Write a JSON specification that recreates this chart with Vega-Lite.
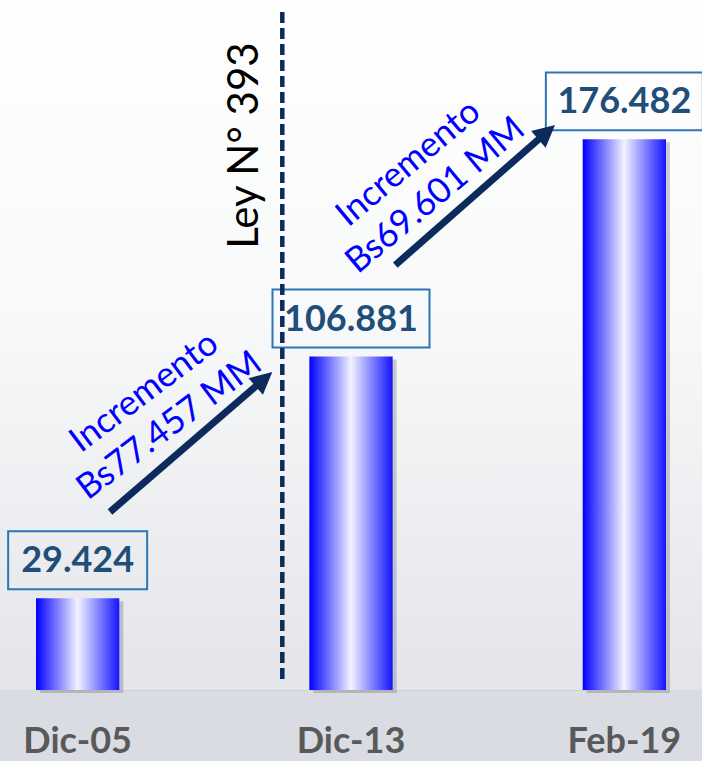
{
  "$schema": "https://vega.github.io/schema/vega-lite/v6.json",
  "width": 702,
  "height": 690,
  "autosize": {"type": "none"},
  "padding": {"left": 0, "right": 0, "top": 0, "bottom": 71},
  "background": "#d9dce2",
  "config": {
    "view": {
      "stroke": null,
      "fill": {"gradient": "linear", "x1": 0, "y1": 0, "x2": 0, "y2": 1,
        "stops": [{"offset": 0, "color": "#ffffff"}, {"offset": 0.45, "color": "#f8f9fa"}, {"offset": 1, "color": "#e3e5e9"}]}
    },
    "axisX": {"title": null, "labelAngle": 0, "labelFont": "Lato", "labelFontWeight": "bold", "labelFontSize": 36,
      "labelColor": "#595959", "ticks": false, "tickSize": 0, "labelPadding": 62, "labelBaseline": "alphabetic",
      "domainColor": "#d8d0d0", "domainWidth": 1, "grid": false}
  },
  "data": {"values": [
    {"periodo": "Dic-05", "monto": 29.424},
    {"periodo": "Dic-13", "monto": 106.881},
    {"periodo": "Feb-19", "monto": 176.482}
  ]},
  "layer": [
    {
      "mark": {"type": "bar", "fill": "#6f7280", "opacity": 0.35, "xOffset": 4, "yOffset": 3},
      "encoding": {
        "x": {"field": "periodo", "type": "nominal", "sort": null, "title": null,
          "scale": {"range": [36, 666], "paddingInner": 0.6953, "paddingOuter": 0}},
        "y": {"field": "monto", "type": "quantitative", "scale": {"domain": [0, 221.15], "nice": false}, "axis": null}
      }
    },
    {
      "mark": {"type": "bar",
        "fill": {"gradient": "linear", "x1": 0, "y1": 0, "x2": 1, "y2": 0,
          "stops": [{"offset": 0, "color": "#0000ff"}, {"offset": 0.5, "color": "#f2f2ff"}, {"offset": 1, "color": "#1414ff"}]}},
      "encoding": {
        "x": {"field": "periodo", "type": "nominal", "sort": null, "title": null},
        "y": {"field": "monto", "type": "quantitative", "axis": null}
      }
    },
    {
      "mark": {"type": "point", "filled": false, "stroke": "#2e75b6", "strokeWidth": 2, "opacity": 1, "yOffset": -38},
      "encoding": {
        "x": {"field": "periodo", "type": "nominal", "sort": null, "title": null},
        "y": {"field": "monto", "type": "quantitative", "axis": null},
        "shape": {"condition": {"test": "datum.monto < 50", "value": "M-1,-0.417L1,-0.417L1,0.417L-1,0.417Z"},
          "value": "M-1,-0.369L1,-0.369L1,0.369L-1,0.369Z"},
        "size": {"condition": {"test": "datum.monto < 50", "value": 19321}, "value": 24649}
      }
    },
    {
      "mark": {"type": "text", "font": "Lato", "fontWeight": "bold", "fontSize": 36, "color": "#1f4e79", "baseline": "middle", "yOffset": -37},
      "encoding": {
        "x": {"field": "periodo", "type": "nominal", "sort": null, "title": null},
        "y": {"field": "monto", "type": "quantitative", "axis": null},
        "text": {"field": "monto", "type": "quantitative", "format": ".3f"}
      }
    },
    {
      "data": {"values": [{}]},
      "mark": {"type": "rule", "color": "#0d2a5c", "strokeWidth": 4.5, "strokeDash": [11, 5], "xOffset": -68.7},
      "encoding": {
        "x": {"datum": "Dic-13", "type": "nominal", "title": null},
        "y": {"datum": 217.3, "type": "quantitative", "axis": null},
        "y2": {"datum": 2.6}
      }
    },
    {
      "data": {"values": [{}]},
      "mark": {"type": "text", "text": "Ley N° 393", "font": "Lato", "fontSize": 42, "color": "#000000", "angle": 270,
        "align": "center", "baseline": "alphabetic", "xOffset": -92.7},
      "encoding": {
        "x": {"datum": "Dic-13", "type": "nominal", "title": null},
        "y": {"datum": 174.5, "type": "quantitative", "axis": null}
      }
    },
    {
      "data": {"values": [{}]},
      "mark": {"type": "rule", "color": "#0d2a5c", "strokeWidth": 7, "strokeCap": "butt", "xOffset": 32.35, "x2Offset": -87.8},
      "encoding": {
        "x": {"datum": "Dic-05", "type": "nominal", "title": null},
        "x2": {"datum": "Dic-13"},
        "y": {"datum": 57.05, "type": "quantitative", "axis": null},
        "y2": {"datum": 99.4}
      }
    },
    {
      "data": {"values": [{}]},
      "mark": {"type": "point", "shape": "M0,0L-0.8,1.6L0.8,1.6Z", "size": 756, "filled": true, "fill": "#0d2a5c",
        "opacity": 1, "strokeWidth": 0, "angle": 49, "xOffset": -78.7},
      "encoding": {
        "x": {"datum": "Dic-13", "type": "nominal", "title": null},
        "y": {"datum": 101.9, "type": "quantitative", "axis": null}
      }
    },
    {
      "data": {"values": [{}]},
      "mark": {"type": "text", "text": ["Incremento", "Bs77.457 MM"], "font": "Lato", "fontSize": 35, "lineHeight": 42,
        "color": "#0000ff", "angle": 323, "align": "center", "baseline": "middle", "xOffset": 66.35},
      "encoding": {
        "x": {"datum": "Dic-05", "type": "nominal", "title": null},
        "y": {"datum": 95.5, "type": "quantitative", "axis": null}
      }
    },
    {
      "data": {"values": [{}]},
      "mark": {"type": "rule", "color": "#0d2a5c", "strokeWidth": 7, "strokeCap": "butt", "xOffset": 44.3, "x2Offset": -78.35},
      "encoding": {
        "x": {"datum": "Dic-13", "type": "nominal", "title": null},
        "x2": {"datum": "Feb-19"},
        "y": {"datum": 136.2, "type": "quantitative", "axis": null},
        "y2": {"datum": 178.6}
      }
    },
    {
      "data": {"values": [{}]},
      "mark": {"type": "point", "shape": "M0,0L-0.8,1.6L0.8,1.6Z", "size": 756, "filled": true, "fill": "#0d2a5c",
        "opacity": 1, "strokeWidth": 0, "angle": 49, "xOffset": -69.35},
      "encoding": {
        "x": {"datum": "Feb-19", "type": "nominal", "title": null},
        "y": {"datum": 181.1, "type": "quantitative", "axis": null}
      }
    },
    {
      "data": {"values": [{}]},
      "mark": {"type": "text", "text": ["Incremento", "Bs69.601 MM"], "font": "Lato", "fontSize": 35, "lineHeight": 42,
        "color": "#0000ff", "angle": 320, "align": "center", "baseline": "middle", "xOffset": 57.3},
      "encoding": {
        "x": {"datum": "Dic-13", "type": "nominal", "title": null},
        "y": {"datum": 168.9, "type": "quantitative", "axis": null}
      }
    }
  ]
}
